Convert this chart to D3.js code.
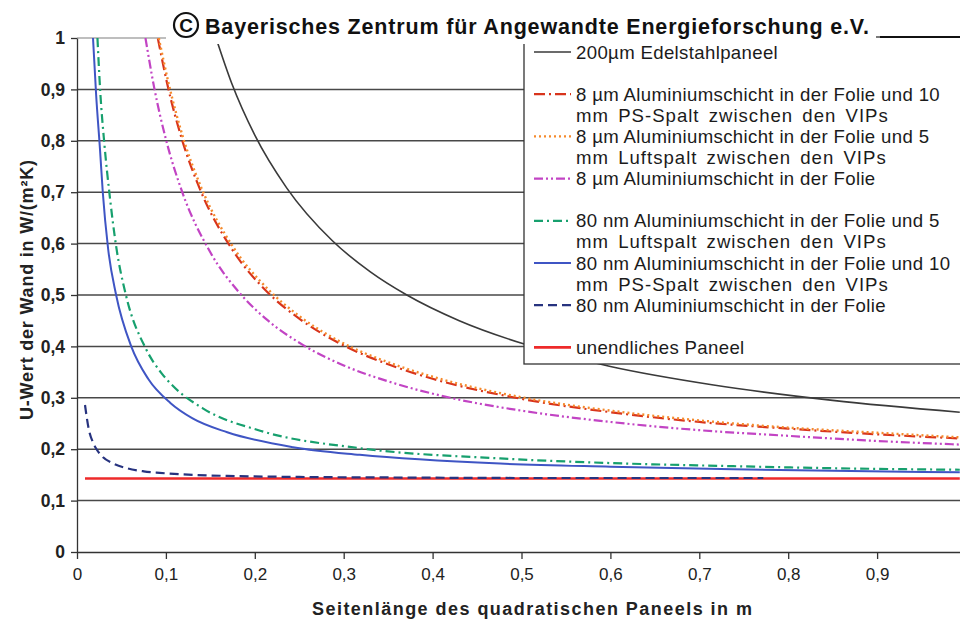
<!DOCTYPE html>
<html>
<head>
<meta charset="utf-8">
<script src="https://cdn.jsdelivr.net/npm/d3@7"></script>
<style>
  html, body { margin: 0; padding: 0; background: #fff; }
  svg { display: block; font-family: "Liberation Sans", Arial, sans-serif; }
</style>
</head>
<body>
<svg id="chart" width="960" height="625"></svg>
<script>
// Axis ticks
const xTicks = [0, 0.1, 0.2, 0.3, 0.4, 0.5, 0.6, 0.7, 0.8, 0.9];
const xTickLabels = ["0", "0,1", "0,2", "0,3", "0,4", "0,5", "0,6", "0,7", "0,8", "0,9"];
const yTicks = [0, 0.1, 0.2, 0.3, 0.4, 0.5, 0.6, 0.7, 0.8, 0.9, 1];
const yTickLabels = ["0", "0,1", "0,2", "0,3", "0,4", "0,5", "0,6", "0,7", "0,8", "0,9", "1"];

// U-value of the wall (W/(m²K)) against the side length of the square panel (m)
const edelstahlX = [0.153, 0.174, 0.200, 0.236, 0.287, 0.330, 0.371, 0.430, 0.504, 0.600, 0.716, 0.850, 0.993];
const edelstahlU = [1.018, 0.912, 0.811, 0.708, 0.606, 0.545, 0.500, 0.450, 0.404, 0.361, 0.325, 0.295, 0.272];

const al8PsX = [0.091, 0.102, 0.118, 0.139, 0.174, 0.214, 0.250, 0.292, 0.360, 0.400, 0.500, 0.600, 0.700, 0.800, 0.900, 0.993];
const al8PsU = [0.999, 0.907, 0.803, 0.703, 0.590, 0.506, 0.454, 0.409, 0.359, 0.337, 0.298, 0.272, 0.253, 0.240, 0.229, 0.221];

const al8LuftX = [0.092, 0.103, 0.119, 0.140, 0.175, 0.215, 0.250, 0.292, 0.360, 0.400, 0.500, 0.600, 0.700, 0.800, 0.900, 0.993];
const al8LuftU = [1.000, 0.912, 0.808, 0.708, 0.595, 0.511, 0.459, 0.413, 0.363, 0.341, 0.301, 0.275, 0.256, 0.242, 0.232, 0.223];

const al8X = [0.077, 0.087, 0.100, 0.118, 0.149, 0.186, 0.215, 0.254, 0.300, 0.350, 0.420, 0.500, 0.600, 0.700, 0.800, 0.900, 0.993];
const al8U = [1.000, 0.902, 0.803, 0.702, 0.586, 0.498, 0.450, 0.403, 0.363, 0.332, 0.300, 0.275, 0.253, 0.237, 0.226, 0.216, 0.209];

const nm80LuftX = [0.023, 0.026, 0.031, 0.037, 0.044, 0.055, 0.077, 0.095, 0.108, 0.142, 0.206, 0.318, 0.476, 0.600, 0.738, 0.850, 0.993];
const nm80LuftU = [1.000, 0.900, 0.790, 0.690, 0.595, 0.500, 0.397, 0.348, 0.323, 0.279, 0.236, 0.202, 0.182, 0.173, 0.167, 0.163, 0.160];

const nm80PsX = [0.018, 0.0215, 0.026, 0.029, 0.035, 0.044, 0.061, 0.080, 0.105, 0.130, 0.169, 0.243, 0.318, 0.476, 0.600, 0.738, 0.850, 0.993];
const nm80PsU = [1.000, 0.890, 0.780, 0.700, 0.590, 0.500, 0.400, 0.337, 0.290, 0.260, 0.233, 0.204, 0.189, 0.172, 0.166, 0.161, 0.158, 0.155];

const nm80X = [0.009, 0.013, 0.018, 0.022, 0.029, 0.040, 0.056, 0.075, 0.093, 0.130, 0.169, 0.250, 0.350, 0.500, 0.650, 0.772];
const nm80U = [0.286, 0.241, 0.213, 0.200, 0.185, 0.173, 0.163, 0.157, 0.154, 0.150, 0.148, 0.146, 0.145, 0.144, 0.144, 0.144];

const unendlichX = [0.009, 0.993];
const unendlichU = [0.143, 0.143];

// Legend texts (wrapped as in the legend box)
const legendTexts = [
  ["200µm Edelstahlpaneel"],
  ["8 µm Aluminiumschicht in der Folie und 10", "mm PS-Spalt zwischen den VIPs"],
  ["8 µm Aluminiumschicht in der Folie und 5", "mm Luftspalt zwischen den VIPs"],
  ["8 µm Aluminiumschicht in der Folie"],
  ["80 nm Aluminiumschicht in der Folie und 5", "mm Luftspalt zwischen den VIPs"],
  ["80 nm Aluminiumschicht in der Folie und 10", "mm PS-Spalt zwischen den VIPs"],
  ["80 nm Aluminiumschicht in der Folie"],
  ["unendliches Paneel"]
];
const titleText = "Bayerisches Zentrum für Angewandte Energieforschung e.V.";
const xTitle = "Seitenlänge des quadratischen Paneels in m";
const yTitle = "U-Wert der Wand in W/(m²K)";

// Series table with line styles
const series = [
  { x: edelstahlX, u: edelstahlU, color: "#3a3a3a", width: 1.6, dash: null, legendRow: 0, label: legendTexts[0] },
  { x: al8PsX, u: al8PsU, color: "#d8341c", width: 2.2, dash: "11,4,2,4", legendRow: 2, label: legendTexts[1] },
  { x: al8LuftX, u: al8LuftU, color: "#f58a2c", width: 2.4, dash: "2,3", legendRow: 4, label: legendTexts[2] },
  { x: al8X, u: al8U, color: "#c244c4", width: 2.2, dash: "9,3,2,3,2,3", legendRow: 6, label: legendTexts[3] },
  { x: nm80LuftX, u: nm80LuftU, color: "#17a06e", width: 2.2, dash: "9,4,2,4", legendRow: 8, label: legendTexts[4] },
  { x: nm80PsX, u: nm80PsU, color: "#3f55c4", width: 2.0, dash: null, legendRow: 10, label: legendTexts[5] },
  { x: unendlichX, u: unendlichU, color: "#ee2a2a", width: 2.6, dash: null, legendRow: 14, label: legendTexts[7] },
  { x: nm80X, u: nm80U, color: "#27337f", width: 2.2, dash: "9,5", legendRow: 12, label: legendTexts[6] }
];

const svg = d3.select("#chart");
const x = d3.scaleLinear().domain([0, 1]).range([77, 966]);
const y = d3.scaleLinear().domain([0, 1]).range([552, 38]);

// Grid lines
svg.append("g").selectAll("line")
  .data(yTicks.filter(d => d > 0 && d < 1))
  .join("line")
  .attr("x1", x(0)).attr("x2", 960)
  .attr("y1", d => y(d)).attr("y2", d => y(d))
  .attr("stroke", "#484848").attr("stroke-width", 1.5);
svg.append("line")
  .attr("x1", x(0)).attr("x2", 960)
  .attr("y1", y(1)).attr("y2", y(1))
  .attr("stroke", "#a8a8a8").attr("stroke-width", 1.5);

// Axes
const yAxis = svg.append("g")
  .attr("transform", `translate(${x(0)},0)`)
  .call(d3.axisLeft(y).tickValues(yTicks).tickSize(6).tickSizeOuter(0).tickPadding(6)
    .tickFormat((d, i) => yTickLabels[i]));
yAxis.selectAll("text").attr("font-size", 17.5).attr("font-weight", "bold").attr("fill", "#222")
  .attr("font-family", "Liberation Sans, Arial, sans-serif");
yAxis.selectAll("line, path").attr("stroke", "#333").attr("stroke-width", 1.3);

const xAxis = svg.append("g")
  .attr("transform", `translate(0,${y(0)})`)
  .call(d3.axisBottom(x).tickValues(xTicks).tickSize(7).tickSizeOuter(0).tickPadding(9)
    .tickFormat((d, i) => xTickLabels[i]));
xAxis.selectAll("text").attr("font-size", 17).attr("fill", "#222")
  .attr("font-family", "Liberation Sans, Arial, sans-serif");
xAxis.selectAll("line, path").attr("stroke", "#333").attr("stroke-width", 1.3);

// Axis titles
svg.append("text")
  .attr("x", 532).attr("y", 615)
  .attr("text-anchor", "middle")
  .attr("font-size", 18).attr("font-weight", "bold").attr("fill", "#222")
  .attr("textLength", 440).attr("lengthAdjust", "spacing")
  .text(xTitle);
svg.append("text")
  .attr("transform", "translate(33,290) rotate(-90)")
  .attr("text-anchor", "middle")
  .attr("font-size", 18).attr("font-weight", "bold").attr("fill", "#222")
  .attr("textLength", 260).attr("lengthAdjust", "spacing")
  .text(yTitle);

// Curves
svg.append("clipPath").attr("id", "plot-clip")
  .append("rect").attr("x", x(0)).attr("y", y(1)).attr("width", 960 - x(0)).attr("height", y(0) - y(1));

const line = d3.line().x(d => x(d[0])).y(d => y(d[1])).curve(d3.curveMonotoneX);
const curves = svg.append("g").attr("clip-path", "url(#plot-clip)");
series.forEach(s => {
  curves.append("path")
    .datum(s.x.map((v, i) => [v, s.u[i]]))
    .attr("d", line)
    .attr("fill", "none")
    .attr("stroke", s.color)
    .attr("stroke-width", s.width)
    .attr("stroke-dasharray", s.dash);
});

// Legend box
const legend = svg.append("g");
legend.append("rect")
  .attr("x", 524).attr("y", 37).attr("width", 460).attr("height", 327)
  .attr("fill", "#fff").attr("stroke", "#333").attr("stroke-width", 1.3);
const rowY = r => 52 + r * 21.1;
series.forEach(s => {
  legend.append("line")
    .attr("x1", 534).attr("x2", 571)
    .attr("y1", rowY(s.legendRow)).attr("y2", rowY(s.legendRow))
    .attr("stroke", s.color).attr("stroke-width", s.width)
    .attr("stroke-dasharray", s.dash);
  s.label.forEach((t, k) => {
    legend.append("text")
      .attr("x", 576).attr("y", rowY(s.legendRow + k) + 6.5)
      .attr("font-size", 18.6).attr("fill", "#1b1b1b")
      .attr("letter-spacing", k === 0 ? 0.35 : 1.0)
      .attr("word-spacing", k === 0 ? 0 : 3)
      .text(t);
  });
});

// Title with copyright mark
const title = svg.append("g");
title.append("rect").attr("x", 166).attr("y", 8).attr("width", 710).attr("height", 36).attr("fill", "#fff");
title.append("circle").attr("cx", 186).attr("cy", 25).attr("r", 12)
  .attr("fill", "none").attr("stroke", "#111").attr("stroke-width", 2.2);
title.append("text").attr("x", 186).attr("y", 32).attr("text-anchor", "middle")
  .attr("font-size", 19).attr("font-weight", "bold").attr("fill", "#111").text("C");
title.append("text").attr("x", 205).attr("y", 34)
  .attr("font-size", 21.5).attr("font-weight", "bold").attr("fill", "#111")
  .attr("textLength", 664).attr("lengthAdjust", "spacing")
  .text(titleText);
title.append("line").attr("x1", 880).attr("x2", 960).attr("y1", 37).attr("y2", 37)
  .attr("stroke", "#111").attr("stroke-width", 2.2);
</script>
</body>
</html>
